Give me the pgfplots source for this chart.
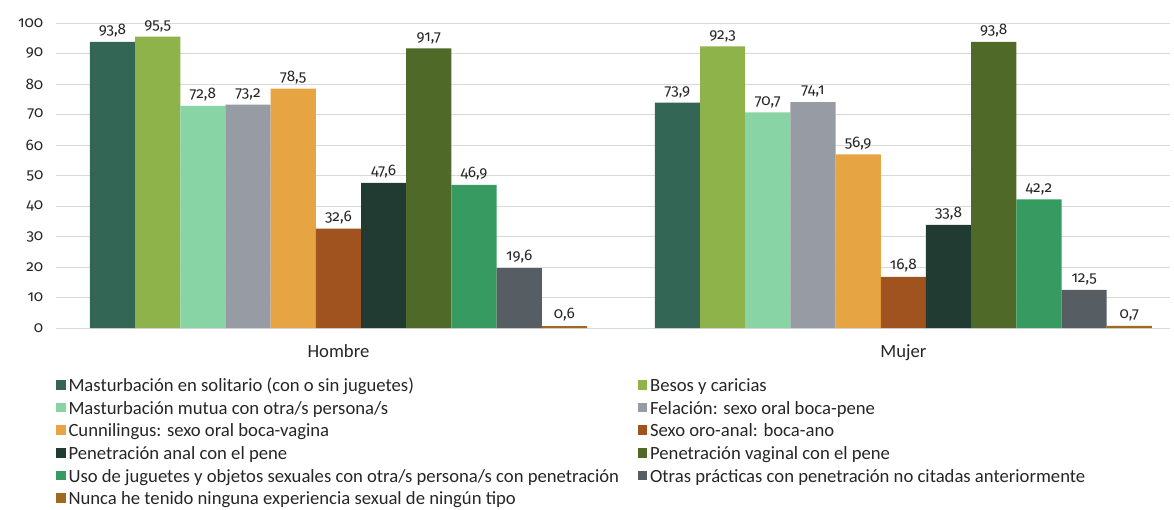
\documentclass[border=0pt]{standalone}
\usepackage{fontspec}
\setmainfont{Carlito}
\newfontfamily\numfont[RawFeature={+onum}]{Fira Sans}
\usepackage{pgfplots}
\pgfplotsset{compat=1.18}
\definecolor{c1}{HTML}{336655}
\definecolor{c2}{HTML}{8DB34A}
\definecolor{c3}{HTML}{88D4A4}
\definecolor{c4}{HTML}{979BA4}
\definecolor{c5}{HTML}{E6A542}
\definecolor{c6}{HTML}{A0531E}
\definecolor{c7}{HTML}{213B32}
\definecolor{c8}{HTML}{4F6A28}
\definecolor{c9}{HTML}{379A60}
\definecolor{c10}{HTML}{565E64}
\definecolor{c11}{HTML}{A06A1E}
\definecolor{txt}{HTML}{262626}
\newcommand{\lgd}[1]{\makebox[425pt][l]{\raisebox{0pt}[11.5pt][4.2pt]{#1}}}
\newcommand{\lgr}[1]{\raisebox{0pt}[11.5pt][4.2pt]{#1}}
\begin{document}
\begin{tikzpicture}
\begin{axis}[
  name=ax,
  scale only axis,
  width=835.5pt, height=228.75pt,
  ybar=0pt, bar width=0.08,
  xmin=-0.5, xmax=1.472, ymin=0, ymax=100,
  xtick={0,1}, xticklabels={Hombre,Mujer},
  ytick={0,10,...,100},
  yticklabel={\numfont\pgfmathprintnumber{\tick}},
  axis line style={draw=none},
  major tick length=0pt,
  ymajorgrids, grid style={draw=black!15, line width=0.75pt},
  /pgf/number format/assume math mode=true,
  /pgf/number format/use comma,
  /pgf/number format/fixed, /pgf/number format/precision=1,
  /pgf/number format/fixed zerofill,
  yticklabel style={font=\fontsize{11.5}{13}\selectfont, text=txt, /pgf/number format/precision=0, /pgf/number format/fixed zerofill=false, xshift=-6pt},
  xticklabel style={font=\fontsize{14}{16}\selectfont, text=txt, yshift=-9pt},
  nodes near coords={\numfont\pgfmathprintnumber{\pgfplotspointmeta}},
  every node near coord/.append style={font=\fontsize{11.5}{13}\selectfont, text=txt},
  clip=false,
  legend columns=2,
  legend cell align=left,
  legend style={at={(0,-0.148)}, anchor=north west, draw=none, fill=none,
    font=\fontsize{14}{16}\selectfont, text=txt, inner sep=0pt, row sep=0pt},
  legend image code/.code={\fill[#1] (0pt,-3.6pt) rectangle (7.2pt,3.6pt);},
]
\addplot[fill=c1, draw=none] coordinates {(0,93.8) (1,73.9)};
\addlegendentry{\lgd{Masturbación en solitario (con o sin juguetes)}}
\addplot[fill=c2, draw=none] coordinates {(0,95.5) (1,92.3)};
\addlegendentry{\lgr{Besos y caricias}}
\addplot[fill=c3, draw=none] coordinates {(0,72.8) (1,70.7)};
\addlegendentry{\lgd{Masturbación mutua con otra/s persona/s}}
\addplot[fill=c4, draw=none] coordinates {(0,73.2) (1,74.1)};
\addlegendentry{\lgr{Felación: sexo oral boca-pene}}
\addplot[fill=c5, draw=none] coordinates {(0,78.5) (1,56.9)};
\addlegendentry{\lgd{Cunnilingus: sexo oral boca-vagina}}
\addplot[fill=c6, draw=none] coordinates {(0,32.6) (1,16.8)};
\addlegendentry{\lgr{Sexo oro-anal: boca-ano}}
\addplot[fill=c7, draw=none] coordinates {(0,47.6) (1,33.8)};
\addlegendentry{\lgd{Penetración anal con el pene}}
\addplot[fill=c8, draw=none] coordinates {(0,91.7) (1,93.8)};
\addlegendentry{\lgr{Penetración vaginal con el pene}}
\addplot[fill=c9, draw=none] coordinates {(0,46.9) (1,42.2)};
\addlegendentry{\lgd{Uso de juguetes y objetos sexuales con otra/s persona/s con penetración}}
\addplot[fill=c10, draw=none] coordinates {(0,19.6) (1,12.5)};
\addlegendentry{\lgr{Otras prácticas con penetración no citadas anteriormente}}
\addplot[fill=c11, draw=none] coordinates {(0,0.6) (1,0.7)};
\addlegendentry{\lgd{Nunca he tenido ninguna experiencia sexual de ningún tipo}}
\end{axis}
\useasboundingbox ([xshift=-42pt,yshift=-132pt]ax.south west) rectangle ([xshift=3pt,yshift=17.25pt]ax.north east);
\end{tikzpicture}
\end{document}
